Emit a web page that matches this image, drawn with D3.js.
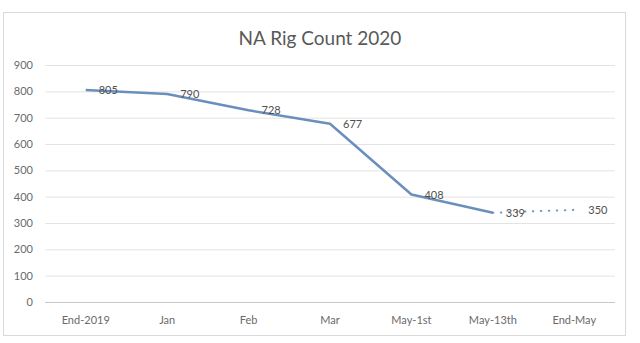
<!DOCTYPE html>
<html><head><meta charset="utf-8">
<script src="https://cdn.jsdelivr.net/npm/d3@7"></script>
<style>body{margin:0;background:#fff}svg{display:block}</style>
</head><body>
<script>
const categories = ["End-2019","Jan","Feb","Mar","May-1st","May-13th","End-May"];
const actualValues = [805,790,728,677,408,339,null];
const forecastValues = [null,null,null,null,null,339,350];
const actualLabels = ["805","790","728","677","408","339"];
const forecastLabels = ["350"];
const yTicks = [0,100,200,300,400,500,600,700,800,900];
const title = "NA Rig Count 2020";

const W=640,H=343;
const svg=d3.select("body").append("svg").attr("width",W).attr("height",H);
svg.append("rect").attr("x",3.5).attr("y",12.5).attr("width",622).attr("height",323)
  .attr("fill","#fff").attr("stroke","#d9d9d9");
const font="Lato, 'Open Sans', sans-serif";
svg.append("text").attr("x",320).attr("y",45).attr("text-anchor","middle")
  .attr("font-family",font).attr("font-size",19).attr("fill","#595959").text(title);

const x=d3.scaleBand().domain(categories).range([45,615]);
const y=d3.scaleLinear().domain([0,900]).range([302,65]);

const grid=svg.append("g");
yTicks.forEach(t=>{
  grid.append("line").attr("x1",45).attr("x2",615).attr("y1",y(t)+0.5).attr("y2",y(t)+0.5)
    .attr("stroke",t===0?"#c8c8c8":"#e3e3e3").attr("stroke-width",1);
});
const yAxis=d3.axisLeft(y).tickValues(yTicks).tickSize(0).tickPadding(0);
const ga=svg.append("g").attr("transform","translate(33,0)").call(yAxis);
ga.select(".domain").remove();
ga.selectAll("text").attr("font-family",font).attr("font-size",11).attr("fill","#6a6a6a");

const xAxis=d3.axisBottom(x).tickSize(0).tickPadding(0);
const gx=svg.append("g").attr("transform","translate(0,316)").call(xAxis);
gx.select(".domain").remove();
gx.selectAll("text").attr("font-family",font).attr("font-size",11).attr("fill","#6a6a6a");

const cx=c=>x(c)+x.bandwidth()/2;
const line=d3.line().defined(d=>d.v!=null).x(d=>cx(d.c)).y(d=>y(d.v));
const color="#6b8fbd";
const act=categories.map((c,i)=>({c,v:actualValues[i]}));
const fc=categories.map((c,i)=>({c,v:forecastValues[i]}));
svg.append("path").datum(fc).attr("d",line).attr("fill","none").attr("stroke","#7d95b5")
  .attr("stroke-width",2).attr("stroke-dasharray","0.5,7.5").attr("stroke-linecap","round");
svg.append("path").datum(act).attr("d",line).attr("fill","none").attr("stroke",color)
  .attr("stroke-width",2.5).attr("stroke-linejoin","round");

const lab=svg.append("g").attr("font-family",font).attr("font-size",11).attr("fill","#505050");
act.filter(d=>d.v!=null).forEach((d,i)=>{
  lab.append("text").attr("x",cx(d.c)+13).attr("y",y(d.v)+4).text(actualLabels[i]);
});
lab.append("text").attr("x",cx("End-May")+14).attr("y",y(350)+4).text(forecastLabels[0]);
</script>
</body></html>
